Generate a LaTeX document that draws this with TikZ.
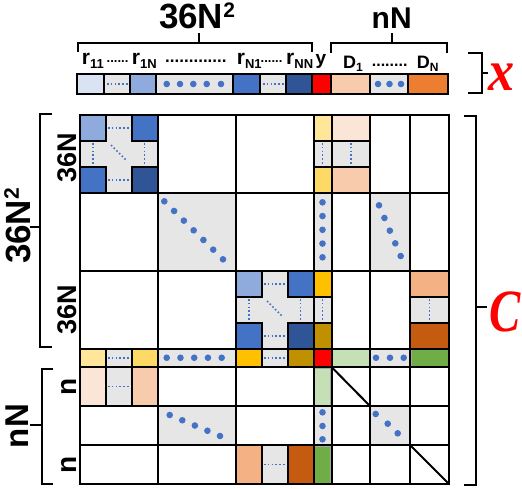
\documentclass[tikz,border=0pt]{standalone}
\usepackage{fontspec}
\setmainfont{Liberation Sans}
\newfontfamily\tnrfam{Liberation Serif}
\definecolor{lgray}{HTML}{E7E6E6}
\definecolor{blX}{HTML}{DAE3F3}
\definecolor{blL}{HTML}{8FAADC}
\definecolor{blM}{HTML}{4472C4}
\definecolor{blD}{HTML}{2F5597}
\definecolor{ylA}{HTML}{FFE699}
\definecolor{ylB}{HTML}{FFD966}
\definecolor{ylC}{HTML}{FFC000}
\definecolor{ylD}{HTML}{BF9000}
\definecolor{pcA}{HTML}{FBE5D6}
\definecolor{pcB}{HTML}{F8CBAD}
\definecolor{pcC}{HTML}{F4B183}
\definecolor{pcD}{HTML}{C55A11}
\definecolor{orA}{HTML}{ED7D31}
\definecolor{grA}{HTML}{C5E0B4}
\definecolor{grB}{HTML}{70AD47}
\definecolor{dotc}{HTML}{4472C4}
\newcommand{\rsb}[1]{\raisebox{-4pt}{\fontsize{13}{13}\selectfont #1}}
\newcommand{\dsb}[1]{\raisebox{-3pt}{\fontsize{12}{12}\selectfont #1}}
\begin{document}
\begin{tikzpicture}[x=1pt,y=-1pt,
  gridl/.style={line width=2pt},
  sub/.style={draw=black,line width=2pt},
  lgc/.style={draw=black!35,line width=0.8pt},
  dline/.style={draw=dotc,line width=1.6pt,dash pattern=on 1.6pt off 2.2pt},
  bd/.style={fill=dotc},
  lbl/.style={font=\bfseries,inner sep=0pt},
  redvar/.style={inner sep=0pt,text=red,font=\tnrfam\bfseries\itshape},
  brk/.style={line width=2pt},
  blockpic/.pic={
    \fill[lgray] (0,0) rectangle (77.5,78);
    \filldraw[sub,fill=blL] (0,0) rectangle (26,25.5);
    \filldraw[sub,fill=blM] (51.5,0) rectangle (77.5,25.5);
    \filldraw[sub,fill=blM] (0,52) rectangle (26,78);
    \filldraw[sub,fill=blD] (51.5,52) rectangle (77.5,78);
    \draw[dline] (28,12.75) -- (49.5,12.75);
    \draw[dline] (28,65) -- (49.5,65);
    \draw[dline] (13,28) -- (13,49.5);
    \draw[dline] (64.5,28) -- (64.5,49.5);
    \draw[dline] (31,30) -- (46,45);
  }]
\useasboundingbox (0,0) rectangle (522,488);

% ---------- top vector ----------
\filldraw[sub,fill=blX] (76.7,74) rectangle (104,94);
\filldraw[sub,fill=lgray] (104,74) rectangle (130,94);
\filldraw[sub,fill=blL] (130,74) rectangle (156,94);
\filldraw[sub,fill=lgray] (156,74) rectangle (233.3,94);
\filldraw[sub,fill=blM] (233.3,74) rectangle (260,94);
\filldraw[sub,fill=lgray] (260,74) rectangle (285.7,94);
\filldraw[sub,fill=blD] (285.7,74) rectangle (311.7,94);
\filldraw[sub,fill=red] (311.7,74) rectangle (330.7,94);
\filldraw[sub,fill=pcB] (330.7,74) rectangle (370,94);
\filldraw[sub,fill=lgray] (370,74) rectangle (408.3,94);
\filldraw[sub,fill=orA] (408.3,74) rectangle (448.3,94);
\draw[dline] (107,84) -- (128,84);
\draw[dline] (263,84) -- (284,84);
\foreach \xx in {166.7,180,193.3,206.7,221} \fill[bd] (\xx,84) circle[radius=3.3pt];
\foreach \xx in {378,389.5,401} \fill[bd] (\xx,84) circle[radius=3.3pt];

% ---------- top labels ----------
\node[lbl,anchor=base west] (r11) at (81.7,64) {\fontsize{21}{21}\selectfont r\rsb{11}};
\node[lbl,anchor=base west] (d1) at (106.5,62) {\fontsize{13}{13}\selectfont ......};
\node[lbl,anchor=base west] (r1N) at (131.7,64) {\fontsize{21}{21}\selectfont r\rsb{1N}};
\node[lbl,anchor=base west] (d2) at (165,62) {\fontsize{17}{17}\selectfont .............};
\node[lbl,anchor=base west] (rN1) at (236.7,64) {\fontsize{21}{21}\selectfont r\rsb{N1}};
\node[lbl,anchor=base west] (d3) at (260.5,62) {\fontsize{13}{13}\selectfont ......};
\node[lbl,anchor=base west] (rNN) at (286,64) {\fontsize{21}{21}\selectfont r\rsb{NN}};
\node[lbl,anchor=base west] (ylab) at (315.5,64) {\fontsize{19}{19}\selectfont y};
\node[lbl,anchor=base west] (D1) at (343,68) {\fontsize{18}{18}\selectfont D\dsb{1}};
\node[lbl,anchor=base west] (d4) at (371.7,66) {\fontsize{16}{16}\selectfont ........};
\node[lbl,anchor=base west] (DN) at (416.7,68) {\fontsize{18}{18}\selectfont D\dsb{N}};
\node[lbl,anchor=base] (top36) at (197,28.3) {\fontsize{35}{35}\selectfont 36N\raisebox{11pt}{\fontsize{21}{21}\selectfont 2}};
\node[lbl,anchor=base] (topnN) at (391.7,28.3) {\fontsize{30}{30}\selectfont nN};

% top brackets
\draw[brk] (78,52) -- (78,42.7) -- (312,42.7) -- (312,52);
\draw[brk] (199,42.7) -- (199,33);
\draw[brk] (330.7,53) -- (330.7,42.7) -- (446.7,42.7) -- (446.7,53);
\draw[brk] (391.7,42.7) -- (391.7,33);
% x bracket
\draw[brk] (468,52.7) -- (481.7,52.7) -- (481.7,92.7) -- (468,92.7);
\draw[brk] (481.7,72.7) -- (488,72.7);
\node[redvar,xscale=0.9,anchor=base] (xlab) at (502,90) {\fontsize{58}{58}\selectfont x};

% ---------- matrix: gray bases ----------
\fill[lgray] (157.5,193) rectangle (236,271);
\fill[lgray] (313.5,115) rectangle (331.5,348.5);
\fill[lgray] (80,348.5) rectangle (313.5,367);
\fill[lgray] (331.5,115) rectangle (370,193);
\fill[lgray] (370,193) rectangle (410,271);
\fill[lgray] (410,271) rectangle (449,348.5);
\fill[lgray] (80,367) rectangle (157.5,406);
\fill[lgray] (157.5,406) rectangle (236,445);
\fill[lgray] (236,445) rectangle (313.5,484);
\fill[lgray] (370,348.5) rectangle (410,367);
\fill[lgray] (313.5,406) rectangle (331.5,445);
\fill[lgray] (370,406) rectangle (410,445);

% 36N x 36N blocks
\pic at (80,115) {blockpic};
\pic at (236,271) {blockpic};

% y column
\filldraw[sub,fill=ylA] (313.5,115) rectangle (331.5,140.5);
\filldraw[sub,fill=ylB] (313.5,167) rectangle (331.5,193);
\filldraw[sub,fill=ylC] (313.5,271) rectangle (331.5,296.5);
\filldraw[sub,fill=ylD] (313.5,322.5) rectangle (331.5,348.5);
\draw[dline] (322.5,143) -- (322.5,164.5);
\draw[dline] (322.5,299) -- (322.5,320.5);
% y row
\filldraw[sub,fill=ylA] (80,348.5) rectangle (106,367);
\filldraw[sub,fill=ylB] (131.5,348.5) rectangle (157.5,367);
\filldraw[sub,fill=ylC] (236,348.5) rectangle (262,367);
\filldraw[sub,fill=ylD] (287.5,348.5) rectangle (313.5,367);
\draw[dline] (108,357.75) -- (129.5,357.75);
\draw[dline] (264,357.75) -- (285.5,357.75);
\filldraw[sub,fill=red] (313.5,348.5) rectangle (331.5,367);
% green cells
\filldraw[lgc,fill=grA] (332.5,349.5) rectangle (369,366);
\filldraw[lgc,fill=grA] (314.5,368) rectangle (330.5,405);
\filldraw[lgc,fill=grB] (411,349.5) rectangle (448,366);
\filldraw[lgc,fill=grB] (314.5,446) rectangle (330.5,483);
% D column pieces
\filldraw[sub,fill=pcA] (331.5,115) rectangle (370,140.5);
\filldraw[sub,fill=pcB] (331.5,167) rectangle (370,193);
\draw[dline] (350.75,143) -- (350.75,164.5);
\filldraw[sub,fill=pcC] (410,271) rectangle (449,296.5);
\filldraw[sub,fill=pcD] (410,322.5) rectangle (449,348.5);
\draw[dline] (429.5,299) -- (429.5,320.5);
% bottom rows
\filldraw[sub,fill=pcA] (80,367) rectangle (106,406);
\filldraw[sub,fill=pcB] (131.5,367) rectangle (157.5,406);
\draw[dline] (108,386.5) -- (129.5,386.5);
\filldraw[sub,fill=pcC] (236,445) rectangle (262,484);
\filldraw[sub,fill=pcD] (287.5,445) rectangle (313.5,484);
\draw[dline] (264,464.5) -- (285.5,464.5);

% ---------- grid ----------
\foreach \xx in {80,157.5,236,313.5,331.5,370,410,449}
  \draw[gridl] (\xx,115) -- (\xx,484);
\foreach \yy in {115,193,271,348.5,367,406,445,484}
  \draw[gridl] (80,\yy) -- (449,\yy);
\draw[gridl,line cap=rect] (80,115) rectangle (449,484);

% diagonals
\draw[gridl] (331.5,367) -- (370,406);
\draw[gridl] (410,445) -- (449,484);

% ---------- blue dots ----------
\foreach \k in {0,...,6} \fill[bd] (164.3+9.78*\k,201.3+9.67*\k) circle[radius=3.3pt];
\foreach \k in {0,...,4} \fill[bd] (322.5,202.3+13.75*\k) circle[radius=3.3pt];
\foreach \k in {0,...,4} \fill[bd] (166.7+13.75*\k,357.75) circle[radius=3.3pt];
\foreach \k in {0,...,4} \fill[bd] (379+5.42*\k,205.3+12.68*\k) circle[radius=3.3pt];
\foreach \k in {0,...,4} \fill[bd] (169.7+12.58*\k,415+5.25*\k) circle[radius=3.3pt];
\foreach \xx in {376,390,403.7} \fill[bd] (\xx,357.75) circle[radius=3.3pt];
\foreach \yy in {412.3,426,439.3} \fill[bd] (322.5,\yy) circle[radius=3.3pt];
\fill[bd] (375.7,414) circle[radius=3.3pt];
\fill[bd] (387.7,423.7) circle[radius=3.3pt];
\fill[bd] (397.7,433.3) circle[radius=3.3pt];

% ---------- left labels and brackets ----------
\draw[brk] (51.7,114.3) -- (40,114.3) -- (40,346.7) -- (51.7,346.7);
\draw[brk] (40,226.7) -- (30,226.7);
\draw[brk] (52.7,369) -- (41.7,369) -- (41.7,484.3) -- (52.7,484.3);
\draw[brk] (41.7,425) -- (30,425);
\node[lbl,rotate=90,anchor=base] (left36) at (30,226) {\fontsize{35}{35}\selectfont 36N\raisebox{11pt}{\fontsize{21}{21}\selectfont 2}};
\node[lbl,rotate=90,anchor=base] (s36a) at (76.7,158) {\fontsize{27}{27}\selectfont 36N};
\node[lbl,rotate=90,anchor=base] (s36b) at (76.7,310) {\fontsize{27}{27}\selectfont 36N};
\node[lbl,rotate=90,anchor=base] (na) at (76.7,386.5) {\fontsize{28}{28}\selectfont n};
\node[lbl,rotate=90,anchor=base] (nb) at (76.7,464.5) {\fontsize{28}{28}\selectfont n};
\node[lbl,rotate=90,anchor=base] (leftnN) at (28.3,426) {\fontsize{33}{33}\selectfont nN};

% ---------- C bracket ----------
\draw[brk] (464.3,116) -- (475.7,116) -- (475.7,485) -- (464.3,485);
\draw[brk] (475.7,306.7) -- (487,306.7);
\node[redvar,xscale=0.78,anchor=base] (Clab) at (505,331.5) {\fontsize{60}{60}\selectfont C};
\end{tikzpicture}
\end{document}
